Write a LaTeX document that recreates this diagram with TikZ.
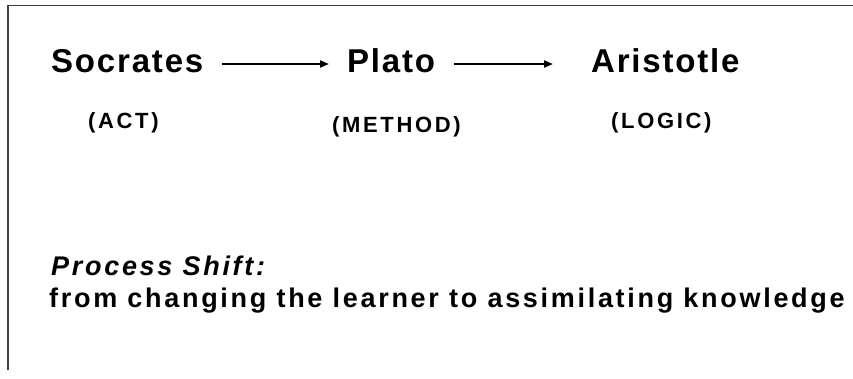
\documentclass[tikz,border=0pt]{standalone}
\usepackage{fontspec}
\setmainfont{Liberation Sans}
\newfontfamily\titlefont[LetterSpace=5.5]{Liberation Sans}
\newfontfamily\labelfont[LetterSpace=12]{Liberation Sans}
\newfontfamily\bodyfont[LetterSpace=10]{Liberation Sans}
\usetikzlibrary{arrows.meta}
\begin{document}
\begin{tikzpicture}[x=1pt,y=-1pt,
  title/.style={anchor=base west,inner sep=0pt,font=\titlefont\bfseries\fontsize{33}{40}\selectfont},
  tag/.style={anchor=base west,inner sep=0pt,font=\labelfont\bfseries\fontsize{22}{26}\selectfont},
  body/.style={anchor=base west,inner sep=0pt,font=\bodyfont\bfseries\fontsize{27}{32}\selectfont},
  frame/.style={line width=1.6pt,draw=black!75},
  arr/.style={line width=2pt,-{Triangle[length=9pt,width=7pt]}}]
  \useasboundingbox (0,0) rectangle (853,378);
  % slide frame edges
  \draw[frame] (8,370) -- (8,5.5) -- (853,5.5);
  % philosophers
  \node[title] (soc) at (51,72) {Socrates};
  \node[title] (pla) at (347,72) {Plato};
  \node[title] (ari) at (591,72) {Aristotle};
  % their modes
  \node[tag] (act) at (88,128) {(ACT)};
  \node[tag] (met) at (332,132) {(METHOD)};
  \node[tag] (log) at (611,128) {(LOGIC)};
  % succession arrows
  \draw[arr] ([xshift=18pt,yshift=8pt]soc.base east) -- ([xshift=-18pt,yshift=8pt]pla.base west);
  \draw[arr] ([xshift=19pt,yshift=8pt]pla.base east) -- ([xshift=-38pt,yshift=8pt]ari.base west);
  % summary
  \node[body,font=\bodyfont\bfseries\itshape\fontsize{27}{32}\selectfont] (ps) at (51,275) {Process Shift:};
  \node[body] (fr) at (49,307) {from changing the learner to assimilating knowledge};
\end{tikzpicture}
\end{document}
